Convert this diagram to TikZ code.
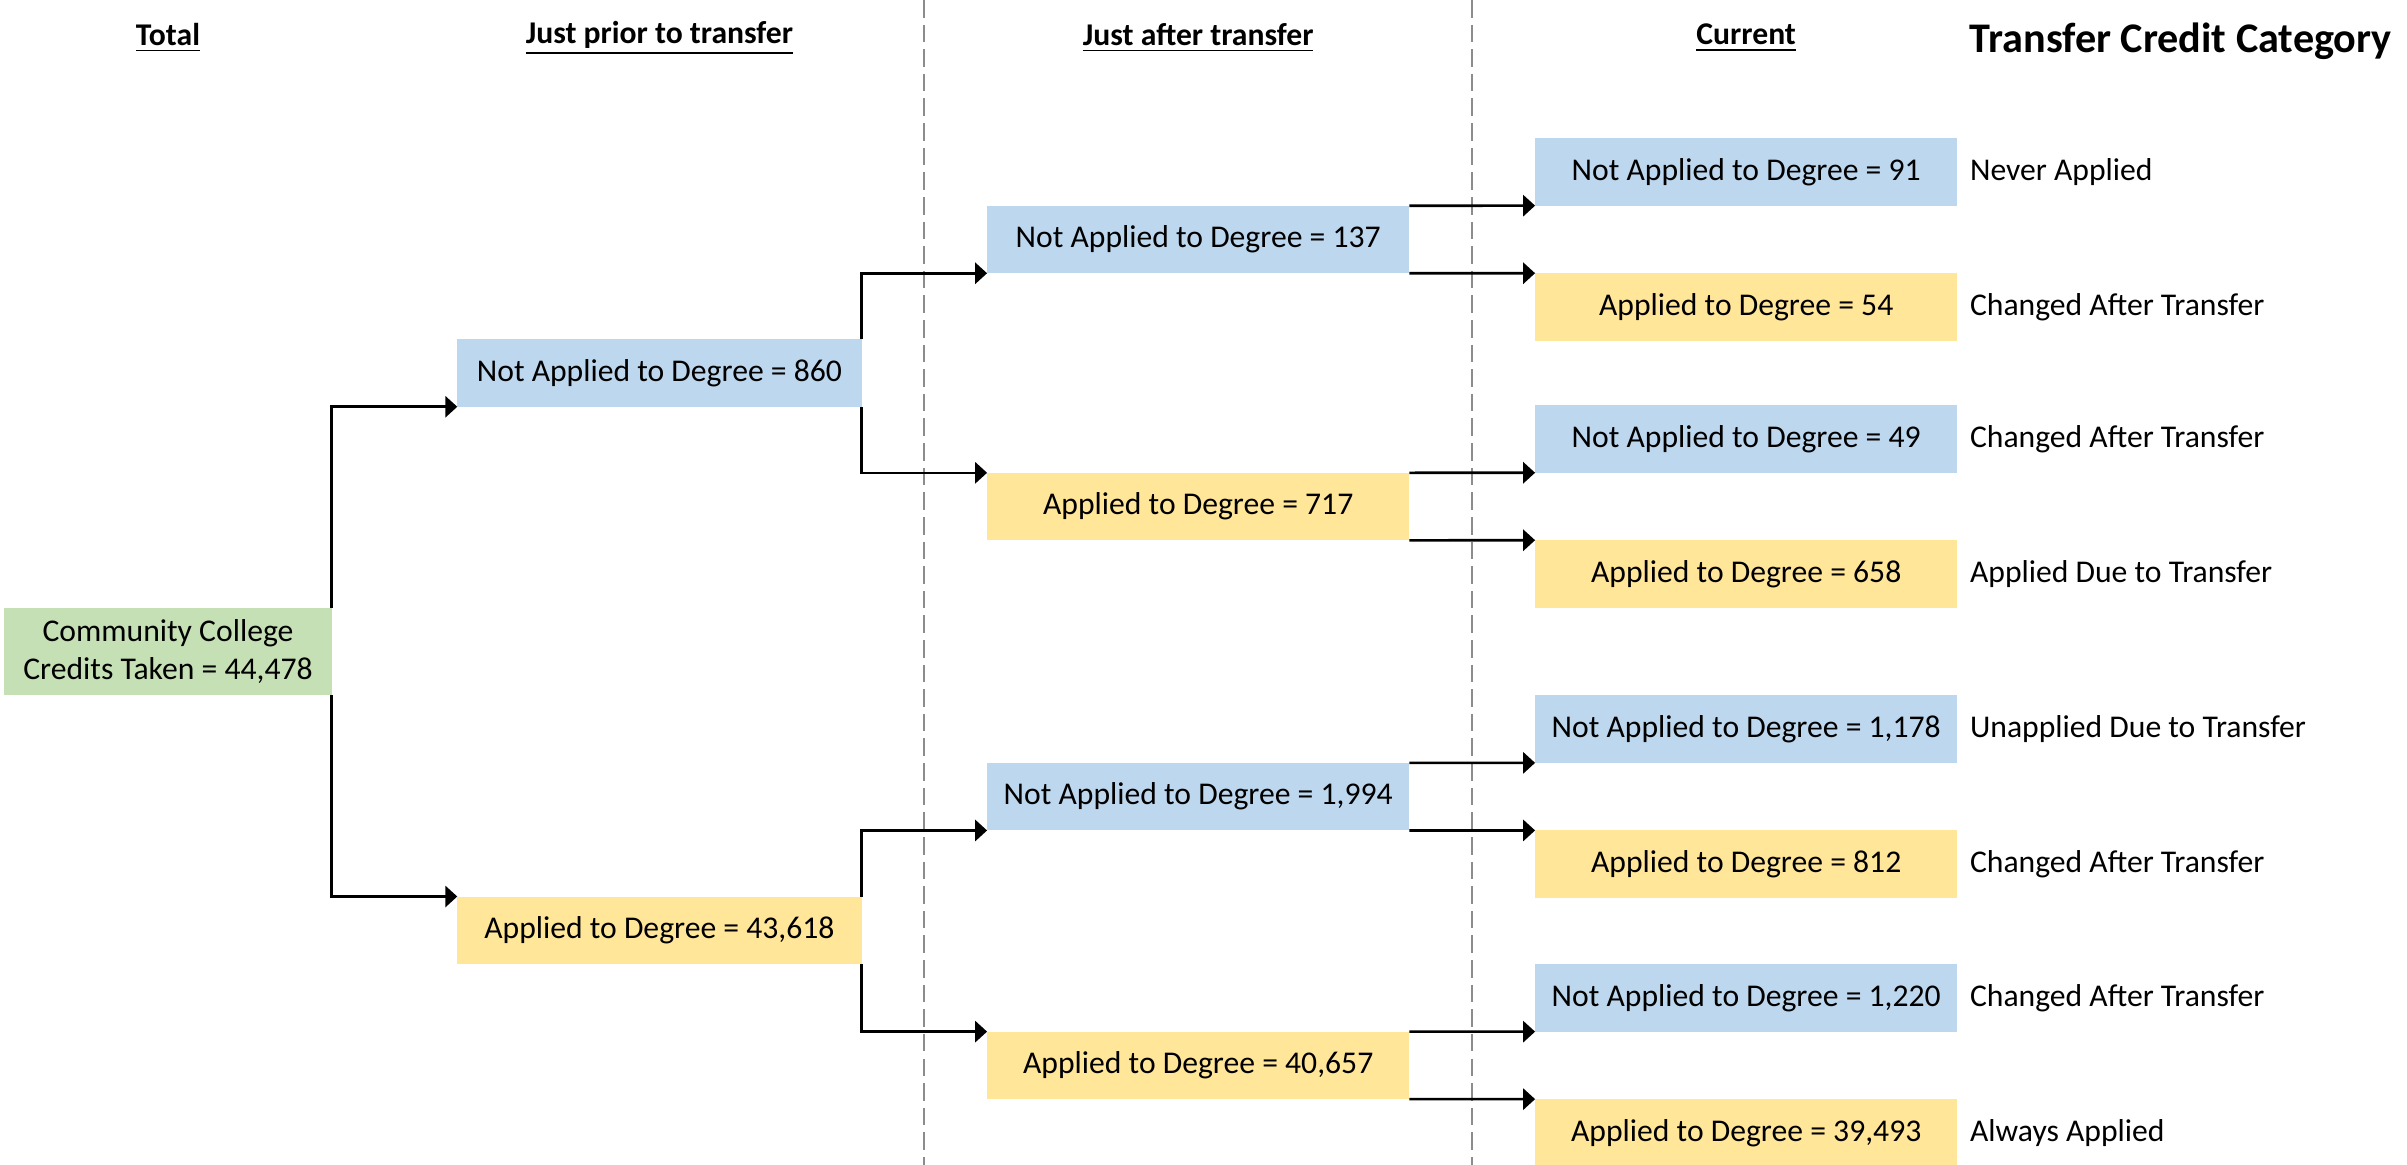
\documentclass[tikz,border=0pt]{standalone}
\usepackage{fontspec}
\setmainfont{Carlito}
\usetikzlibrary{arrows.meta}
\definecolor{bluebox}{RGB}{189,215,238}
\definecolor{yellowbox}{RGB}{255,230,153}
\definecolor{greenbox}{RGB}{197,224,180}
\definecolor{sepgray}{RGB}{140,140,140}
\tikzset{
  box/.style={inner sep=0pt, outer sep=0pt, minimum height=0.675cm, font=\fontsize{9}{11}\selectfont, text=black},
  nbox/.style={box, fill=bluebox},
  ybox/.style={box, fill=yellowbox},
  gbox/.style={box, fill=greenbox, minimum width=3.27cm, minimum height=0.87cm, align=center},
  w1/.style={minimum width=4.04cm},
  w2/.style={minimum width=4.22cm},
  arr/.style={draw=black, line width=0.75pt, -{Triangle[length=3.4pt,width=6pt]}},
  sepline/.style={draw=sepgray, line width=0.35pt, dash pattern=on 5pt off 2pt},
  hdr/.style={font=\bfseries\fontsize{9}{11}\selectfont, inner sep=0pt},
  cat/.style={font=\fontsize{9}{11}\selectfont, anchor=west, inner sep=0pt},
}
\begin{document}
\begin{tikzpicture}[x=0.01cm, y=-0.01cm]
\useasboundingbox (0,0) rectangle (2407,1165);
% separators
\draw[sepline] (924,0) -- (924,1165);
\draw[sepline] (1472,0) -- (1472,1165);
% headers
\node[hdr] (h1) at (168,38) {\underline{Total}};
\node[hdr] (h2) at (659.4,38) {\underline{Just prior to transfer}};
\node[hdr] (h3) at (1198.2,38) {\underline{Just after transfer}};
\node[hdr] (h4) at (1746.2,38) {\underline{Current}};
\node[font=\bfseries\fontsize{12}{14}\selectfont, anchor=west, inner sep=0pt] (title) at (1969,41) {Transfer Credit Category};
% column 0
\node[gbox] (g) at (168,651.5) {Community College\\Credits Taken = 44,478};
% column 1
\node[nbox,w1] (a1) at (659.4,373) {Not Applied to Degree = 860};
\node[ybox,w1] (a2) at (659.4,930.3) {Applied to Degree = 43,618};
% column 2
\node[nbox,w2] (b1) at (1198.2,239.5) {Not Applied to Degree = 137};
\node[ybox,w2] (b2) at (1198.2,506.6) {Applied to Degree = 717};
\node[nbox,w2] (b3) at (1198.2,796.7) {Not Applied to Degree = 1,994};
\node[ybox,w2] (b4) at (1198.2,1065.4) {Applied to Degree = 40,657};
% column 3
\node[nbox,w2] (c1) at (1746.2,171.9) {Not Applied to Degree = 91};
\node[ybox,w2] (c2) at (1746.2,307) {Applied to Degree = 54};
\node[nbox,w2] (c3) at (1746.2,439) {Not Applied to Degree = 49};
\node[ybox,w2] (c4) at (1746.2,574) {Applied to Degree = 658};
\node[nbox,w2] (c5) at (1746.2,729.1) {Not Applied to Degree = 1,178};
\node[ybox,w2] (c6) at (1746.2,864.2) {Applied to Degree = 812};
\node[nbox,w2] (c7) at (1746.2,997.9) {Not Applied to Degree = 1,220};
\node[ybox,w2] (c8) at (1746.2,1132.9) {Applied to Degree = 39,493};
% categories
\node[cat] (l1) at ([xshift=0.12cm]c1.east) {Never Applied};
\node[cat] (l2) at ([xshift=0.12cm]c2.east) {Changed After Transfer};
\node[cat] (l3) at ([xshift=0.12cm]c3.east) {Changed After Transfer};
\node[cat] (l4) at ([xshift=0.12cm]c4.east) {Applied Due to Transfer};
\node[cat] (l5) at ([xshift=0.12cm]c5.east) {Unapplied Due to Transfer};
\node[cat] (l6) at ([xshift=0.12cm]c6.east) {Changed After Transfer};
\node[cat] (l7) at ([xshift=0.12cm]c7.east) {Changed After Transfer};
\node[cat] (l8) at ([xshift=0.12cm]c8.east) {Always Applied};
% connectors
\draw[arr] (g.north east) |- (a1.south west);
\draw[arr] (g.south east) |- (a2.north west);
\draw[arr] (a1.north east) |- (b1.south west);
\draw[arr] (a1.south east) |- (b2.north west);
\draw[arr] (a2.north east) |- (b3.south west);
\draw[arr] (a2.south east) |- (b4.north west);
\draw[arr] (b1.north east) -- (c1.south west);
\draw[arr] (b1.south east) -- (c2.north west);
\draw[arr] (b2.north east) -- (c3.south west);
\draw[arr] (b2.south east) -- (c4.north west);
\draw[arr] (b3.north east) -- (c5.south west);
\draw[arr] (b3.south east) -- (c6.north west);
\draw[arr] (b4.north east) -- (c7.south west);
\draw[arr] (b4.south east) -- (c8.north west);
\end{tikzpicture}
\end{document}
